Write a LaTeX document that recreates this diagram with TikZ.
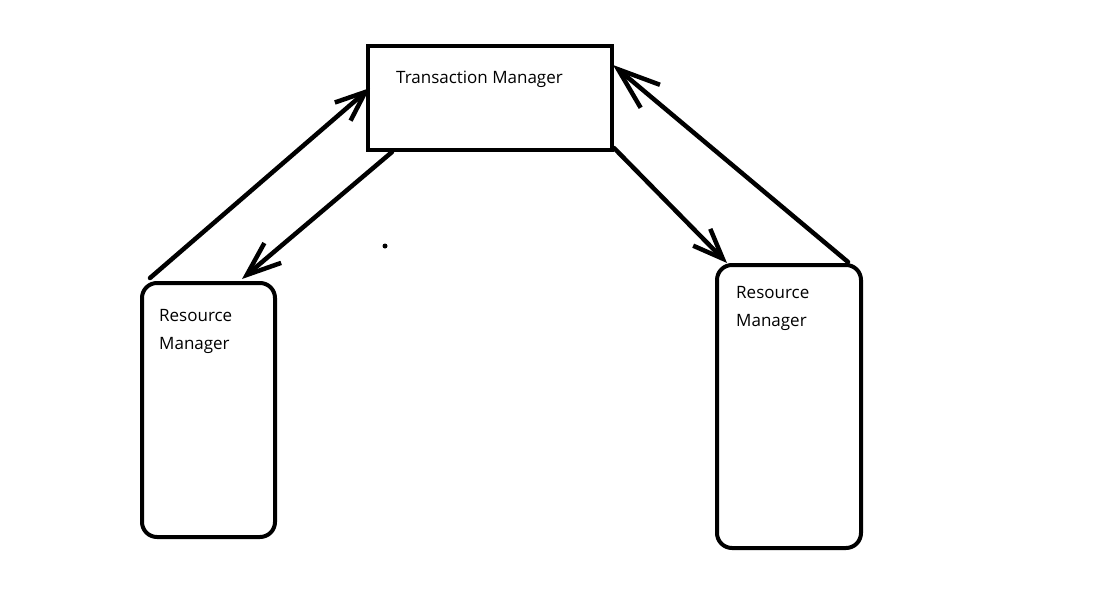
\documentclass[tikz,border=0pt]{standalone}
\usepackage{fontspec}
\setmainfont{Open Sans}
\usetikzlibrary{arrows.meta}
\begin{document}
\begin{tikzpicture}[x=1pt,y=-1pt,
  box/.style={draw=black,line width=4pt,rectangle,inner sep=0pt},
  rmbox/.style={box,rounded corners=15pt},
  lbl/.style={anchor=west,inner sep=0pt,font=\fontsize{17}{20}\selectfont,text=black},
  conn/.style={line width=4.5pt,line cap=round,line join=round}]
\useasboundingbox[fill=white] (0,0) rectangle (1106,605);
\node[box,minimum width=244pt,minimum height=104pt] (tm) at (490,98) {};
\node[rmbox,minimum width=133pt,minimum height=254pt] (rm1) at (208.5,410) {};
\node[rmbox,minimum width=144pt,minimum height=283pt] (rm2) at (789,406.5) {};
\node[lbl] (tmt) at (396,79) {Transaction Manager};
\node[lbl] (r1a) at (159,316) {Resource};
\node[lbl] (r1b) at (159,345) {Manager};
\node[lbl] (r2a) at (736,293) {Resource};
\node[lbl] (r2b) at (736,322) {Manager};
\coordinate (a1s) at (150,278); \coordinate (a1e) at (370,88);
\coordinate (a2s) at (392,152); \coordinate (a2e) at (242,279);
\coordinate (a3s) at (614,148); \coordinate (a3e) at (727,263);
\coordinate (a4s) at (848,262); \coordinate (a4e) at (613,65);
\draw[conn,-{Straight Barb[length=30pt,width=24pt]}] (a1s) -- (a1e);
\draw[conn,-{Straight Barb[length=34pt,width=26pt]}] (a2s) -- (a2e);
\draw[conn,-{Straight Barb[length=30pt,width=24pt]}] (a3s) -- (a3e);
\draw[conn,-{Straight Barb[length=42pt,width=30pt]}] (a4s) -- (a4e);
\fill (385,246) circle (2.5pt) coordinate (dot);
\end{tikzpicture}
\end{document}
